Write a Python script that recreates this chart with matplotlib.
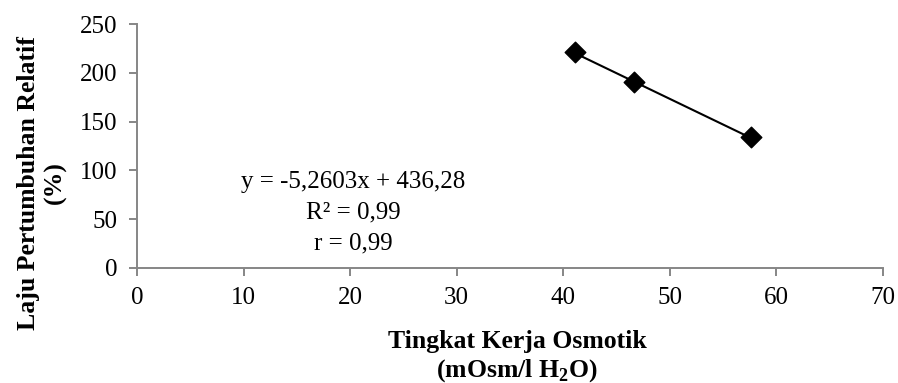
import numpy as np
import matplotlib.pyplot as plt

plt.rcParams['font.family'] = ['Liberation Serif', 'DejaVu Serif']
plt.rcParams['mathtext.fontset'] = 'custom'
plt.rcParams['mathtext.rm'] = 'Liberation Serif'
plt.rcParams['mathtext.bf'] = 'Liberation Serif:bold'

# Osmotic work level vs relative growth rate
osmotik = [41.1, 46.6, 57.6]
laju = [221, 191, 134]

# Linear trend line
slope = -5.2603
intercept = 436.28
stats = ['y = -5,2603x + 436,28', 'R² = 0,99', 'r = 0,99']

xticks = [0, 10, 20, 30, 40, 50, 60, 70]
yticks = [0, 50, 100, 150, 200, 250]

W, H = 898, 383
fig = plt.figure(figsize=(W / 100, H / 100), dpi=100)
ax = fig.add_axes([137 / W, 1 - 268 / H, (883 - 137) / W, (268 - 24) / H])

xs = np.array([min(osmotik), max(osmotik)])
ax.plot(xs, slope * xs + intercept, color='black', lw=1.5, zorder=2)
ax.scatter(osmotik, laju, marker='D', s=110, color='black', zorder=3)

ax.set_xlim(0, 70)
ax.set_ylim(0, 250)
ax.set_xticks(xticks)
ax.set_yticks(yticks)

for side in ['top', 'right']:
    ax.spines[side].set_visible(False)
for side in ['left', 'bottom']:
    ax.spines[side].set_color('#868686')
    ax.spines[side].set_linewidth(1.4)
ax.tick_params(axis='both', color='#868686', width=1.4, length=6,
               labelsize=18, pad=8)

# trend line statistics, one centred line each
for txt, yv in zip(stats, [88, 56.5, 25.5]):
    ax.text(20.3, yv, txt, ha='center', va='center', fontsize=18)

fig.text(517 / W, 1 - 357 / H, 'Tingkat Kerja Osmotik\n(mOsm/l H$_\\mathbf{2}$O)',
         ha='center', va='center', fontsize=18.5, fontweight='bold',
         linespacing=1.2)
fig.text(42 / W, 1 - 183 / H, 'Laju Pertumbuhan Relatif\n(%)',
         ha='center', va='center', rotation=90, fontsize=18.5,
         fontweight='bold', linespacing=1.2)

fig.savefig('out.png', dpi=100)
